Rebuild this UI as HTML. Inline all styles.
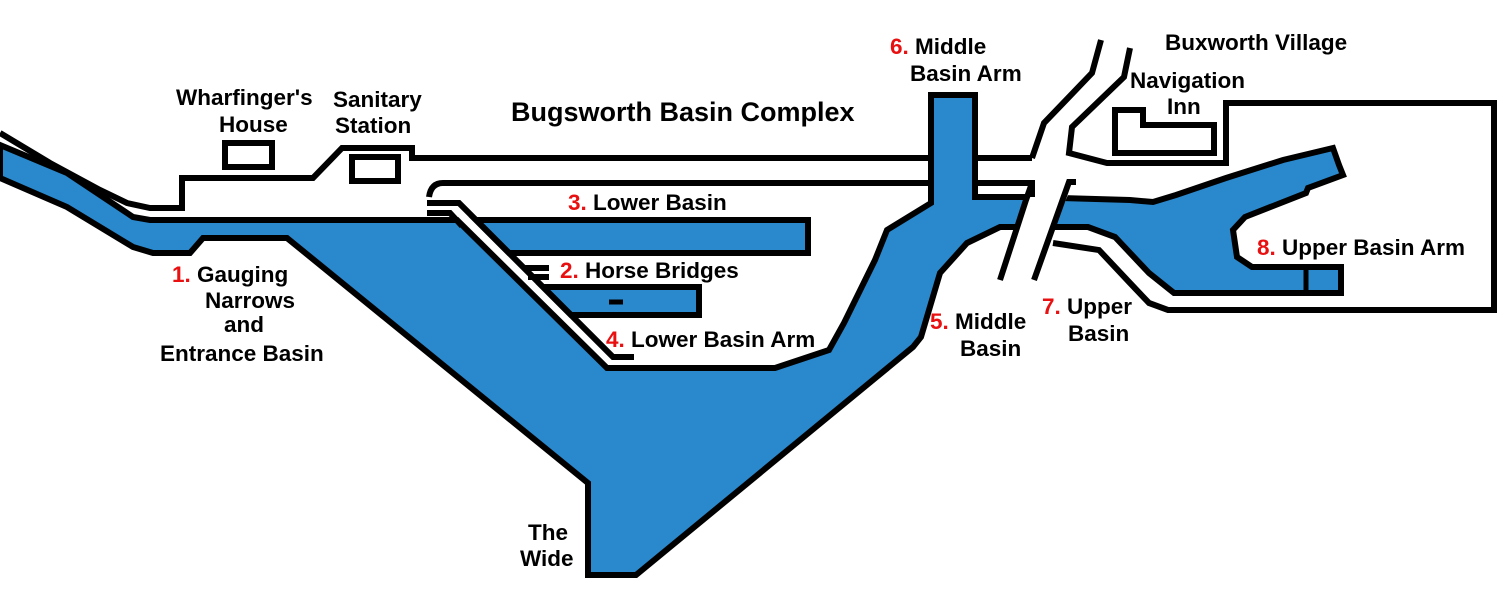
<!DOCTYPE html>
<html><head><meta charset="utf-8"><style>
html,body{margin:0;padding:0;background:#fff;}
svg{display:block;}
text{font-family:"Liberation Sans",Arial,sans-serif;font-weight:bold;font-size:22.5px;fill:#000;}
.r{fill:#e81010;}
</style></head><body>
<svg width="1498" height="600" viewBox="0 0 1498 600" xmlns="http://www.w3.org/2000/svg">
<rect width="1498" height="600" fill="#fff"/>
<g stroke="#000" stroke-width="6" stroke-linejoin="miter" fill="none">
<polygon fill="#2a88cc" points="931,203 931,95 975,95 975,197 1030,197 1061,198 1130,200 1153,202 1176,195 1226,178 1283,160 1333,148 1339,165 1343,175 1308,188 1306,193 1245,217 1233,230 1237,257 1252,267 1341,267 1341,293 1174,293 1149,273 1115,237 1088,227 1053,227 1000,227 967,243 940,273 921,337 913,347 636,575 588,575 588,483 287,238 203,238 190,253 153,253 133,247 67,207 0,178 0,145 67,173 133,217 150,220 457,220 607,368 775,368 829,350 844,323 875,260 887,230"/>
<polygon fill="#2a88cc" points="476,220 808,220 808,253 509,253"/>
<polygon fill="#2a88cc" points="543,287 699,287 699,315 571,315"/>
<line x1="609" y1="302" x2="623" y2="302" stroke-width="5"/>
<polygon fill="#fff" stroke="none" points="1030,186 1072,186 1048,240 1016,240"/>
<polyline points="427,203 459,203 613,357 634,357"/>
<polyline points="427,213 450,213 462,226"/>
<polyline points="523,268 549,268"/>
<polyline points="528,277 549,277"/>
<polyline points="0,133 50,163 100,190 127,203 150,208 182,208 182,178 313,178 342,148 412,148 412,158 931,158"/>
<polyline points="975,158 1032,158"/>
<path d="M429,197 Q431,183 443,183 L931,183"/>
<polyline points="975,183 1032,183 1032,197"/>
<rect x="225" y="143" width="47" height="24"/>
<rect x="352" y="157" width="46" height="24"/>
<polygon points="1115,110 1143,110 1143,125 1214,125 1214,153 1115,153"/>
<polyline points="1101,40 1092,73 1069,97 1044,123 1032,158"/>
<polyline points="1032,183 1026,200 1000,280"/>
<polyline points="1130,48 1124,77 1072,127 1069,153 1107,163 1226,163 1226,103 1494,103 1494,310 1168,310 1149,303 1130,283 1099,250 1053,243"/>
<polyline points="1076,182 1069,182 1034,280"/>
<line x1="1306" y1="268" x2="1306" y2="293" stroke-width="5"/>
</g>
<text x="176" y="105">Wharfinger's</text>
<text x="219" y="132">House</text>
<text x="333" y="107">Sanitary</text>
<text x="335" y="133">Station</text>
<text x="511" y="121" style="font-size:27px">Bugsworth Basin Complex</text>
<text x="890" y="54"><tspan class="r">6.</tspan> Middle</text>
<text x="910" y="81">Basin Arm</text>
<text x="1165" y="50">Buxworth Village</text>
<text x="1130" y="88">Navigation</text>
<text x="1167" y="114">Inn</text>
<text x="568" y="210"><tspan class="r">3.</tspan> Lower Basin</text>
<text x="560" y="278"><tspan class="r">2.</tspan> Horse Bridges</text>
<text x="606" y="347"><tspan class="r">4.</tspan>  Lower Basin Arm</text>
<text x="172" y="282"><tspan class="r">1.</tspan>  Gauging</text>
<text x="205" y="308">Narrows</text>
<text x="224" y="332">and</text>
<text x="160" y="361">Entrance Basin</text>
<text x="930" y="329"><tspan class="r">5.</tspan> Middle</text>
<text x="960" y="356">Basin</text>
<text x="1042" y="314"><tspan class="r">7.</tspan> Upper</text>
<text x="1068" y="341">Basin</text>
<text x="1257" y="255"><tspan class="r">8.</tspan> Upper Basin Arm</text>
<text x="528" y="540">The</text>
<text x="520" y="566">Wide</text>
</svg>
</body></html>
